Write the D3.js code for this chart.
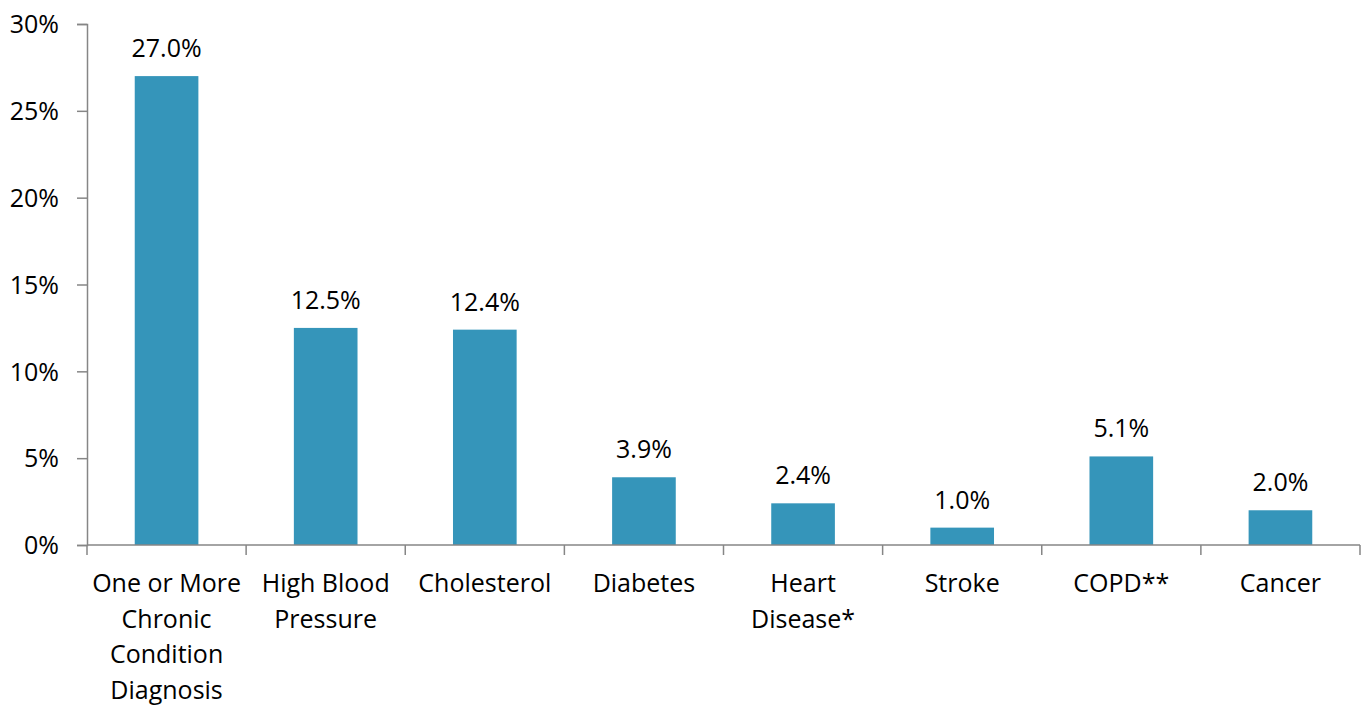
<!DOCTYPE html>
<html>
<head>
<meta charset="utf-8">
<script src="https://cdn.jsdelivr.net/npm/d3@7"></script>
<style>
  body { margin: 0; background: #fff; }
  svg text { font-family: "Open Sans", "Noto Sans", sans-serif; fill: #000; }
</style>
</head>
<body>
<svg id="chart" width="1364" height="706"></svg>
<script>
// Datos del gráfico
const categorias = [
    ["One or More", "Chronic", "Condition", "Diagnosis"],
    ["High Blood", "Pressure"],
    ["Cholesterol"],
    ["Diabetes"],
    ["Heart", "Disease*"],
    ["Stroke"],
    ["COPD**"],
    ["Cancer"]
];
const valores = [27.0, 12.5, 12.4, 3.9, 2.4, 1.0, 5.1, 2.0];
const ticksY = [0, 5, 10, 15, 20, 25, 30];

const margin = { top: 24, right: 4, bottom: 161, left: 87 };
const width = 1364 - margin.left - margin.right;
const height = 706 - margin.top - margin.bottom;
const tamFuente = "25px";

const svg = d3.select("#chart")
    .append("g")
    .attr("transform", "translate(" + margin.left + "," + margin.top + ")");

const x = d3.scaleBand()
    .domain(d3.range(categorias.length))
    .range([0, width])
    .padding(0);

const y = d3.scaleLinear()
    .domain([0, 30])
    .range([height, 0]);

const anchoBarra = x.bandwidth() * 0.4;

// Barras
svg.selectAll(".bar")
    .data(valores)
    .enter()
    .append("rect")
    .attr("class", "bar")
    .attr("x", (d, i) => x(i) + (x.bandwidth() - anchoBarra) / 2)
    .attr("y", d => y(d))
    .attr("width", anchoBarra)
    .attr("height", d => y(0) - y(d))
    .attr("fill", "#3595BA");

// Etiquetas de valor
svg.selectAll(".valor")
    .data(valores)
    .enter()
    .append("text")
    .attr("class", "valor")
    .attr("x", (d, i) => x(i) + x.bandwidth() / 2)
    .attr("y", d => y(d) - 19)
    .attr("text-anchor", "middle")
    .style("font-size", tamFuente)
    .text(d => d.toFixed(1) + "%");

// Eje Y
const ejeY = svg.append("g")
    .call(d3.axisLeft(y).tickValues(ticksY).tickSize(10).tickPadding(18).tickFormat(d => d + "%"));
ejeY.select(".domain").attr("stroke", "#868686").attr("stroke-width", 1.5);
ejeY.selectAll(".tick line").attr("stroke", "#868686").attr("stroke-width", 1.5);
ejeY.selectAll(".tick text").style("font-size", tamFuente).attr("dy", "0.35em");

// Eje X
const ejeX = svg.append("g")
    .attr("transform", "translate(0," + height + ")");
ejeX.append("line")
    .attr("x1", 0).attr("x2", width)
    .attr("stroke", "#868686").attr("stroke-width", 1.5);
ejeX.selectAll(".tickx")
    .data(d3.range(categorias.length + 1))
    .enter()
    .append("line")
    .attr("x1", d => d === categorias.length ? width : x(d))
    .attr("x2", d => d === categorias.length ? width : x(d))
    .attr("y1", 0).attr("y2", 10)
    .attr("stroke", "#868686").attr("stroke-width", 1.5);

// Etiquetas de categoría
const etiquetas = ejeX.selectAll(".cat")
    .data(categorias)
    .enter()
    .append("text")
    .attr("class", "cat")
    .attr("text-anchor", "middle")
    .style("font-size", tamFuente)
    .attr("transform", (d, i) => "translate(" + (x(i) + x.bandwidth() / 2) + ",47)");

etiquetas.selectAll("tspan")
    .data(d => d)
    .enter()
    .append("tspan")
    .attr("x", 0)
    .attr("y", (d, i) => i * 35.5)
    .text(d => d);
</script>
</body>
</html>
